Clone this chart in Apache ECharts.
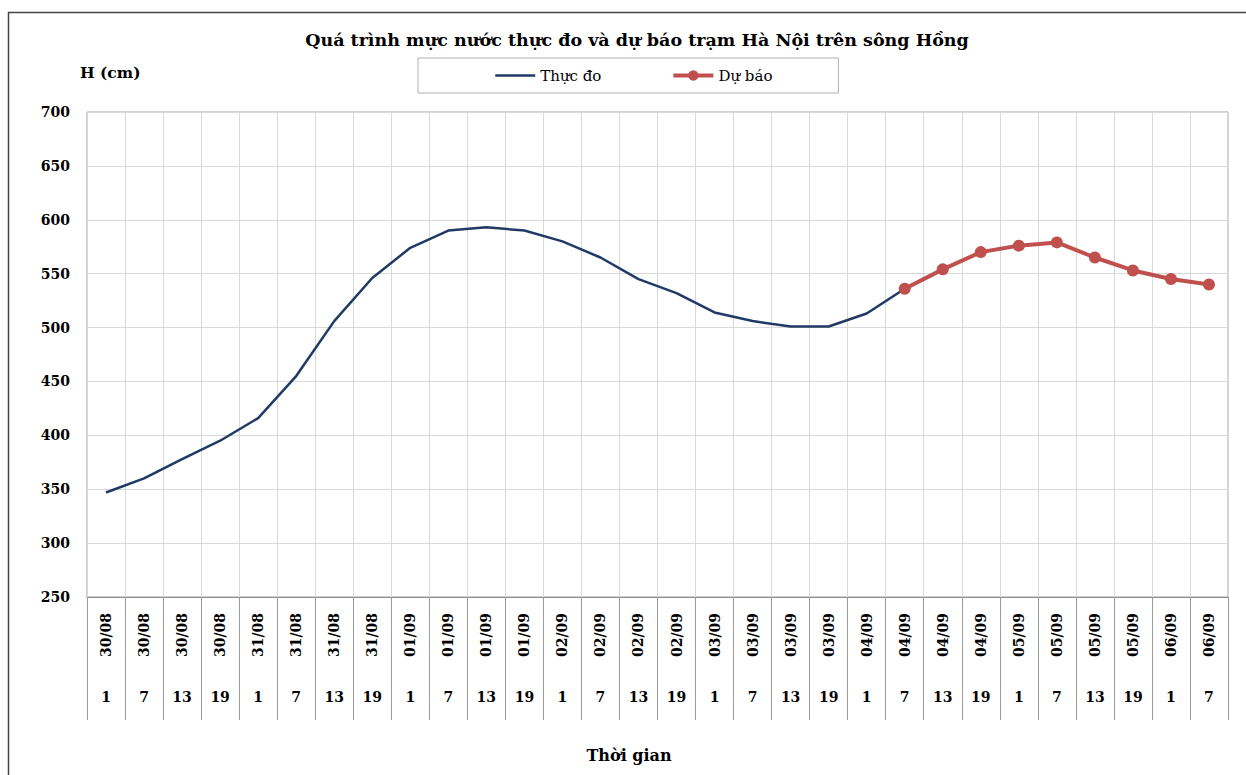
<!DOCTYPE html>
<html>
<head>
<meta charset="utf-8">
<script src="https://cdn.jsdelivr.net/npm/echarts@6/dist/echarts.min.js"></script>
<style>
html,body{margin:0;padding:0;background:#fff;}
#chart{width:1246px;height:775px;}
</style>
</head>
<body>
<div id="chart"></div>
<script>
var titleText = 'Quá trình mực nước thực đo và dự báo trạm Hà Nội trên sông Hồng';
var yAxisTitle = 'H (cm)';
var xAxisTitle = 'Thời gian';
var seriesNames = ['Thực đo', 'Dự báo'];

var dates = ['30/08','30/08','30/08','30/08','31/08','31/08','31/08','31/08',
             '01/09','01/09','01/09','01/09','02/09','02/09','02/09','02/09',
             '03/09','03/09','03/09','03/09','04/09','04/09','04/09','04/09',
             '05/09','05/09','05/09','05/09','06/09','06/09'];
var hours = ['1','7','13','19','1','7','13','19','1','7','13','19','1','7','13','19',
             '1','7','13','19','1','7','13','19','1','7','13','19','1','7'];

var actual = [347,360,378,395,416,455,506,546,574,590,593,590,580,565,545,532,
              514,506,501,501,513,536,
              null,null,null,null,null,null,null,null];
var forecast = [null,null,null,null,null,null,null,null,null,null,null,null,null,null,null,null,
                null,null,null,null,null,536,554,570,576,579,565,553,545,540];

var yTicks = {min: 250, max: 700, step: 50};

var categories = dates.map(function (d, i) { return d + ' ' + hours[i]; });

var FONT = 'DejaVu Serif';
var chart = echarts.init(document.getElementById('chart'), null, {renderer: 'svg'});

var option = {
  backgroundColor: '#ffffff',
  animation: false,
  grid: {left: 87, top: 112, right: 18, bottom: 178, show: true, borderColor: '#a0a0a0', borderWidth: 1, containLabel: false},
  legend: {
    data: [
      {name: seriesNames[0], itemStyle: {opacity: 0}, lineStyle: {width: 2.5}},
      {name: seriesNames[1], lineStyle: {width: 4}}
    ],
    left: 418, top: 58,
    padding: [10, 66, 10, 76],
    itemGap: 70,
    itemWidth: 40, itemHeight: 13,
    borderColor: '#b0b0b0', borderWidth: 1,
    selectedMode: false,
    textStyle: {fontFamily: FONT, fontSize: 15, color: '#000'}
  },
  xAxis: [{
    type: 'category',
    data: categories,
    position: 'bottom',
    boundaryGap: true,
    axisLine: {show: true, onZero: false, lineStyle: {color: '#8c8c8c', width: 1}},
    axisTick: {show: true, interval: 0, length: 123, lineStyle: {color: '#9a9a9a', width: 1}},
    axisLabel: {
      interval: 0, rotate: 90, margin: 16,
      fontFamily: FONT, fontWeight: 'bold', fontSize: 14, color: '#000',
      formatter: function (v, i) { return dates[i]; }
    },
    splitLine: {show: true, interval: 0, lineStyle: {color: '#d9d9d9', width: 1}}
  }, {
    type: 'category',
    data: categories,
    position: 'bottom',
    boundaryGap: true,
    axisLine: {show: false, onZero: false},
    axisTick: {show: false},
    splitLine: {show: false},
    axisLabel: {
      interval: 0, margin: 93,
      fontFamily: FONT, fontWeight: 'bold', fontSize: 14, color: '#000',
      formatter: function (v, i) { return hours[i]; }
    }
  }],
  yAxis: {
    type: 'value',
    min: yTicks.min, max: yTicks.max, interval: yTicks.step,
    axisLine: {show: false},
    axisTick: {show: false},
    axisLabel: {margin: 17, fontFamily: FONT, fontWeight: 'bold', fontSize: 14, color: '#000'},
    splitLine: {show: true, lineStyle: {color: '#d9d9d9', width: 1}}
  },
  graphic: [
    {type: 'rect', shape: {x: 8.5, y: 12.5, width: 1260, height: 800}, style: {fill: 'none', stroke: '#444', lineWidth: 1.5}, silent: true},
    {type: 'text', x: 637, y: 40, style: {text: titleText, fontFamily: FONT, fontWeight: 'bold', fontSize: 17.5, fill: '#000', align: 'center', verticalAlign: 'middle'}},
    {type: 'text', x: 80, y: 72, style: {text: yAxisTitle, fontFamily: FONT, fontWeight: 'bold', fontSize: 15.5, fill: '#000', align: 'left', verticalAlign: 'middle'}},
    {type: 'text', x: 629, y: 755, style: {text: xAxisTitle, fontFamily: FONT, fontWeight: 'bold', fontSize: 16, fill: '#000', align: 'center', verticalAlign: 'middle'}}
  ],
  series: [{
    name: seriesNames[0],
    type: 'line',
    xAxisIndex: 0,
    data: actual,
    symbol: 'none',
    lineStyle: {color: '#1F3A64', width: 2.5},
    itemStyle: {color: '#1F3A64'}
  }, {
    name: seriesNames[1],
    type: 'line',
    xAxisIndex: 0,
    data: forecast,
    symbol: 'circle',
    symbolSize: 12,
    showSymbol: true,
    lineStyle: {color: '#C0504D', width: 4},
    itemStyle: {color: '#C0504D'}
  }]
};
chart.setOption(option);
</script>
</body>
</html>
